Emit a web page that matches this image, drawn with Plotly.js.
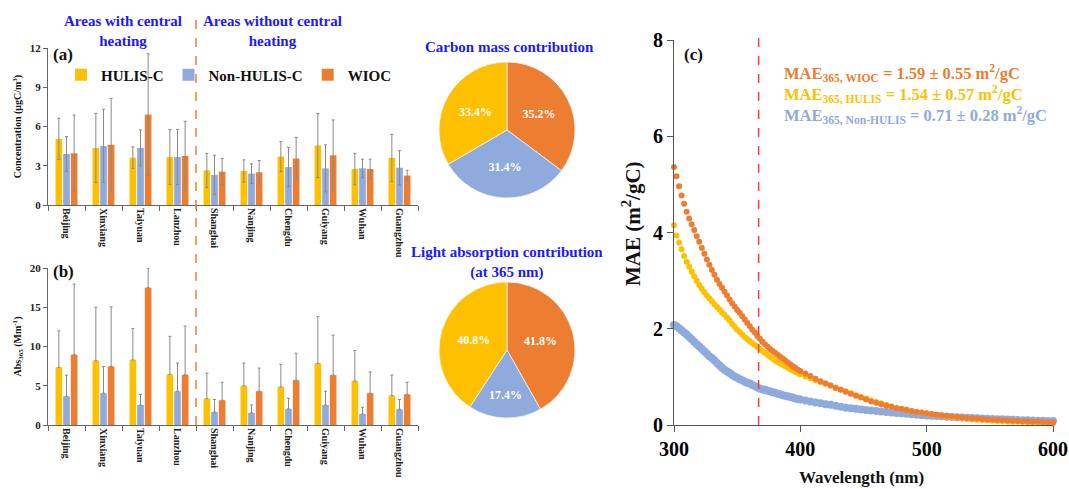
<!DOCTYPE html>
<html><head><meta charset="utf-8">
<script src="https://cdn.plot.ly/plotly-3.0.1.min.js"></script>
<style>html,body{margin:0;padding:0;background:#fff}#chart{width:1069px;height:489px}</style>
</head><body><div id="chart"></div>
<script>
// ---------- data ----------
const cities = ["Beijing","Xinxiang","Taiyuan","Lanzhou","Shanghai","Nanjing","Chengdu","Guiyang","Wuhan","Guangzhou"];
const seriesNames = ["HULIS-C","Non-HULIS-C","WIOC"];

// (a) concentration (µgC/m3) and SD
const concHULIS = [5.05, 4.36, 3.62, 3.67, 2.65, 2.60, 3.70, 4.55, 2.75, 3.60];
const concHULISsd = [1.58, 2.65, 0.82, 2.10, 1.30, 0.85, 1.15, 2.45, 1.20, 1.80];
const concNon = [3.90, 4.52, 4.36, 3.67, 2.30, 2.40, 2.90, 2.80, 2.80, 2.85];
const concNonsd = [1.33, 2.80, 1.38, 2.10, 1.50, 0.75, 1.50, 1.80, 0.70, 1.30];
const concWIOC = [3.95, 4.60, 6.91, 3.75, 2.55, 2.50, 3.55, 3.80, 2.75, 2.25];
const concWIOCsd = [2.93, 3.55, 4.65, 2.65, 1.00, 0.90, 1.62, 2.70, 0.75, 0.40];

// (b) Abs365 (Mm-1) and SD
const absHULIS = [7.35, 8.20, 8.30, 6.45, 3.35, 5.00, 4.85, 7.85, 5.60, 3.75];
const absHULISsd = [4.65, 6.80, 4.00, 4.85, 3.25, 2.90, 2.88, 5.99, 3.90, 2.62];
const absNon = [3.65, 4.05, 2.55, 4.30, 1.65, 1.55, 2.05, 2.55, 1.40, 2.00];
const absNonsd = [2.70, 3.40, 1.35, 3.60, 1.60, 1.00, 1.35, 1.75, 0.85, 1.25];
const absWIOC = [8.95, 7.45, 17.50, 6.40, 3.15, 4.30, 5.70, 6.35, 4.05, 3.90];
const absWIOCsd = [9.00, 7.60, 2.50, 6.20, 2.30, 2.95, 3.45, 5.10, 2.70, 1.55];

// pies (order: WIOC, Non-HULIS, HULIS)
const pieLabels = ["WIOC","Non-HULIS-C","HULIS-C"];
const carbonShare = [35.2, 31.4, 33.4];
const lightShare = [41.8, 17.4, 40.8];

// (c) MAE spectra
const wavelength = [300,302,304,306,308,310,312,314,316,318,320,322,324,326,328,330,332,334,336,338,340,342,344,346,348,350,352,354,356,358,360,362,364,366,368,370,372,374,376,378,380,382,384,386,388,390,392,394,396,398,400,
404,408,412,416,420,424,428,432,436,440,444,448,452,456,460,464,468,472,476,480,484,488,492,496,500,504,508,512,516,520,524,528,532,536,540,544,548,552,556,560,564,568,572,576,580,584,588,592,596,600];
const maeWIOC = [5.36,5.17,4.96,4.77,4.60,4.43,4.29,4.17,4.05,3.92,3.81,3.68,3.56,3.44,3.33,3.22,3.12,3.02,2.93,2.85,2.77,2.69,2.61,2.53,2.46,2.39,2.33,2.26,2.19,2.12,2.05,1.98,1.92,1.85,1.79,1.73,1.68,1.63,1.58,1.54,1.50,1.46,1.42,1.38,1.34,1.30,1.26,1.22,1.19,1.15,1.12,
1.07,1.02,0.96,0.91,0.86,0.82,0.77,0.73,0.69,0.65,0.61,0.57,0.53,0.49,0.46,0.43,0.40,0.38,0.35,0.33,0.31,0.29,0.27,0.26,0.245,0.23,0.215,0.20,0.19,0.175,0.165,0.155,0.145,0.14,0.13,0.125,0.115,0.11,0.105,0.10,0.095,0.09,0.085,0.08,0.075,0.07,0.065,0.06,0.055,0.05];
const maeHULIS = [4.15,3.94,3.79,3.65,3.51,3.39,3.29,3.19,3.09,3.00,2.91,2.83,2.76,2.69,2.63,2.57,2.51,2.45,2.40,2.34,2.29,2.23,2.17,2.10,2.04,1.98,1.93,1.88,1.83,1.78,1.74,1.70,1.66,1.62,1.58,1.54,1.50,1.46,1.42,1.38,1.34,1.31,1.28,1.25,1.22,1.19,1.16,1.13,1.10,1.08,1.05,
1.01,0.97,0.93,0.89,0.86,0.82,0.78,0.74,0.70,0.66,0.62,0.58,0.55,0.51,0.48,0.45,0.42,0.39,0.36,0.34,0.32,0.29,0.27,0.255,0.24,0.225,0.21,0.19,0.175,0.16,0.15,0.14,0.13,0.12,0.11,0.105,0.10,0.09,0.085,0.08,0.075,0.07,0.065,0.06,0.05,0.045,0.04,0.035,0.03,0.03];
const maeNon = [2.08,2.05,2.01,1.97,1.92,1.88,1.83,1.78,1.73,1.68,1.63,1.58,1.53,1.48,1.43,1.39,1.34,1.29,1.24,1.19,1.15,1.11,1.08,1.04,1.01,0.98,0.95,0.93,0.90,0.88,0.86,0.83,0.81,0.78,0.76,0.74,0.73,0.71,0.70,0.68,0.67,0.65,0.64,0.62,0.61,0.60,0.58,0.57,0.55,0.54,0.53,
0.51,0.49,0.47,0.45,0.43,0.42,0.40,0.38,0.36,0.35,0.34,0.32,0.31,0.30,0.29,0.28,0.27,0.26,0.25,0.245,0.235,0.225,0.215,0.205,0.20,0.19,0.185,0.18,0.17,0.165,0.16,0.155,0.15,0.145,0.14,0.135,0.13,0.125,0.12,0.12,0.115,0.11,0.105,0.10,0.10,0.095,0.09,0.09,0.085,0.085];
const refWavelength = 367;

// ---------- styling ----------
const FONT = "Liberation Serif, 'Times New Roman', serif";
const cY = "#FFC000", cB = "#8FAADC", cO = "#ED7D31";
const errStyle = {color:"#8a8a8a", thickness:1, width:1.5};
const W = 1069, H = 489;
const px = v => v / W, py = v => 1 - v / H;

function barTrace(name, x, y, sd, color, xa, ya, show, upOnly){
  const ey = upOnly ? {type:"data", symmetric:false, array:sd, arrayminus:sd.map(()=>0)}
                    : {type:"data", array:sd};
  return {type:"bar", name, x, y, xaxis:xa, yaxis:ya, marker:{color},
    error_y:Object.assign(ey, errStyle), showlegend:show, legendgroup:name};
}
function pieTrace(vals, yTop, yBot){
  return {type:"pie", values:vals, labels:pieLabels, sort:false, direction:"clockwise", rotation:0,
   domain:{x:[px(439),px(575)], y:[py(yBot),py(yTop)]},
   marker:{colors:[cO,cB,cY], line:{color:"#f4f4f4", width:0.8}},
   text:vals.map(v=>v.toFixed(1)+"%"), textinfo:"text", textposition:"inside", insidetextorientation:"horizontal",
   insidetextfont:{family:FONT, size:12, color:"#fff", weight:700}, showlegend:false, hoverinfo:"skip"};
}

const traces = [
  barTrace(seriesNames[0], cities, concHULIS, concHULISsd, cY, "x", "y", true, false),
  barTrace(seriesNames[1], cities, concNon, concNonsd, cB, "x", "y", true, false),
  barTrace(seriesNames[2], cities, concWIOC, concWIOCsd, cO, "x", "y", true, false),
  barTrace(seriesNames[0], cities, absHULIS, absHULISsd, cY, "x2", "y2", false, true),
  barTrace(seriesNames[1], cities, absNon, absNonsd, cB, "x2", "y2", false, true),
  barTrace(seriesNames[2], cities, absWIOC, absWIOCsd, cO, "x2", "y2", false, true),
  pieTrace(carbonShare, 62, 198),
  pieTrace(lightShare, 282, 418),
  {type:"scatter", mode:"markers", x:wavelength, y:maeNon, xaxis:"x3", yaxis:"y3",
   marker:{color:cB, size:8}, cliponaxis:false, showlegend:false},
  {type:"scatter", mode:"markers", x:wavelength, y:maeHULIS, xaxis:"x3", yaxis:"y3",
   marker:{color:cY, size:6}, cliponaxis:false, showlegend:false},
  {type:"scatter", mode:"markers", x:wavelength, y:maeWIOC, xaxis:"x3", yaxis:"y3",
   marker:{color:cO, size:6}, cliponaxis:false, showlegend:false}
];

const smallTick = {family:FONT, size:11, color:"#222", weight:700};
const catTick = {family:FONT, size:10, color:"#222", weight:700};
function catAxis(anchor){
  return {domain:[px(48),px(418)], anchor, type:"category", range:[-0.5,9.5],
    tickangle:90, ticks:"outside", tickson:"boundaries", ticklen:5, tickcolor:"#666",
    showline:true, linecolor:"#666", linewidth:1, tickfont:catTick, showgrid:false};
}
function valAxis(dom, range, dtick, title, anchor){
  return {domain:dom, range, dtick, anchor, showline:true, linecolor:"#666",
    ticks:"outside", ticklen:4, tickcolor:"#666", tickfont:smallTick, showgrid:false, zeroline:false,
    title:{text:title, font:{family:FONT, size:10, color:"#111", weight:700}, standoff:6}};
}
function note(text, x, y, size, color, xanchor){
  return {text, x:px(x), y:py(y), xref:"paper", yref:"paper", xanchor:xanchor||"center", yanchor:"middle",
    showarrow:false, font:{family:FONT, size, color}};
}

const layout = {
  width:W, height:H, margin:{l:0,r:0,t:0,b:0}, paper_bgcolor:"#fff", plot_bgcolor:"rgba(0,0,0,0)",
  font:{family:FONT, color:"#111"},
  barmode:"group", bargap:0.38, bargroupgap:0.13,
  xaxis:catAxis("y"),
  yaxis:valAxis([py(205),py(48)],[0,12],3,"Concentration (μgC/m<sup>3</sup>)","x"),
  xaxis2:catAxis("y2"),
  yaxis2:valAxis([py(425),py(268)],[0,20],5,"Abs<sub>365</sub> (Mm<sup>-1</sup>)","x2"),
  xaxis3:{domain:[px(674),px(1053)], anchor:"y3", range:[300,600], dtick:100, showline:true, linecolor:"#555",
    ticks:"outside", ticklen:6, tickcolor:"#555", showgrid:false, zeroline:false,
    tickfont:{family:FONT, size:20, color:"#000", weight:700}},
  yaxis3:{domain:[py(425),py(40)], anchor:"x3", range:[0,8], dtick:2, showline:true, linecolor:"#555",
    ticks:"outside", ticklen:6, tickcolor:"#555", showgrid:false, zeroline:false,
    tickfont:{family:FONT, size:20, color:"#000", weight:700}},
  showlegend:true,
  legend:{orientation:"h", x:px(61), y:py(75), xanchor:"left", yanchor:"middle",
    font:{family:FONT, size:15, color:"#111", weight:700}, bgcolor:"rgba(0,0,0,0)"},
  shapes:[
    {type:"line", xref:"x", yref:"paper", x0:3.5, x1:3.5, y0:py(425), y1:py(12),
     line:{color:cO, width:1.5, dash:"dash"}},
    {type:"line", xref:"x3", yref:"paper", x0:refWavelength, x1:refWavelength, y0:py(425), y1:py(37),
     line:{color:"#ff3b3b", width:1.5, dash:"dash"}}
  ],
  annotations:[
    note("<b>Areas with central<br>heating</b>", 123, 31, 15, "#1a1aff"),
    note("<b>Areas without central<br>heating</b>", 272, 31, 15, "#1a1aff"),
    note("<b>(a)</b>", 51, 55, 17, "#111", "left"),
    note("<b>(b)</b>", 51, 271, 17, "#111", "left"),
    note("<b>(c)</b>", 682, 55, 17, "#111", "left"),
    note("<b>Carbon mass contribution</b>", 509, 47, 15, "#1a1aff"),
    note("<b>Light absorption contribution<br>(at 365 nm)</b>", 507, 262, 15, "#1a1aff"),
    note("<b>MAE<sub>365, WIOC</sub> = 1.59 ± 0.55 m<sup>2</sup>/gC</b>", 782, 73, 16.5, cO, "left"),
    note("<b>MAE<sub>365, HULIS</sub> = 1.54 ± 0.57 m<sup>2</sup>/gC</b>", 782, 94, 16.5, cY, "left"),
    note("<b>MAE<sub>365, Non-HULIS</sub> = 0.71 ± 0.28 m<sup>2</sup>/gC</b>", 782, 115, 16.5, cB, "left"),
    Object.assign(note("<b>MAE (m<sup>2</sup>/gC)</b>", 632, 224, 21, "#111"), {textangle:-90}),
    note("<b>Wavelength (nm)</b>", 861, 477, 17, "#111")
  ]
};

Plotly.newPlot("chart", traces, layout, {displayModeBar:false, staticPlot:true});
</script></body></html>
